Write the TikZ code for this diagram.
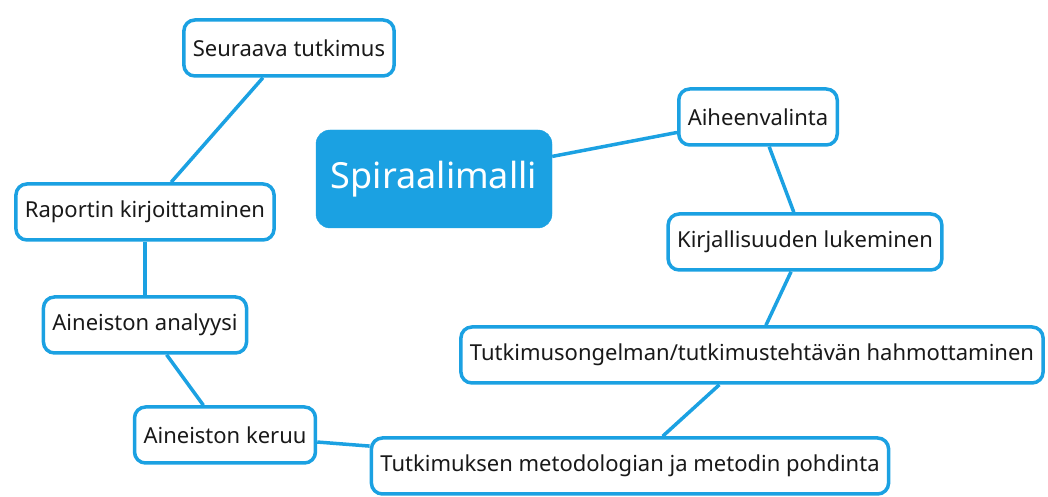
\documentclass[tikz,border=0pt]{standalone}
\usepackage{fontspec}
\setmainfont{Noto Sans}
\definecolor{mapblue}{HTML}{1BA1E2}

\begin{document}
\begin{tikzpicture}[x=1pt,y=1pt,font=\fontsize{22}{26}\selectfont,
    topic/.style={draw=mapblue,line width=3.5pt,rounded corners=11pt,fill=white,
      minimum height=56pt,inner xsep=9pt,text=black!90},
    hub/.style={draw=mapblue,fill=mapblue,rounded corners=14pt,minimum width=236pt,
      minimum height=98pt,text=white,font=\fontsize{36}{42}\selectfont},
    link/.style={mapblue,line width=3.5pt}]
        \useasboundingbox (0,0) rectangle (1048,497);
        \node[hub] (spiral) at (434,318) {Spiraalimalli};
        \node[topic] (aihe) at (758,380) {Aiheenvalinta};
        \node[topic] (kirj) at (805,255) {Kirjallisuuden lukeminen};
        \node[topic] (ongelma) at (752,142) {Tutkimusongelman/tutkimustehtävän hahmottaminen};
        \node[topic] (metodi) at (630,31) {Tutkimuksen metodologian ja metodin pohdinta};
        \node[topic] (keruu) at (225,62) {Aineiston keruu};
        \node[topic] (analyysi) at (145,172) {Aineiston analyysi};
        \node[topic] (raportti) at (145,285) {Raportin kirjoittaminen};
        \node[topic] (seuraava) at (289,449) {Seuraava tutkimus};
        \foreach \a/\b in {spiral/aihe,aihe/kirj,kirj/ongelma,ongelma/metodi,metodi/keruu,keruu/analyysi,analyysi/raportti,raportti/seuraava} {
          \draw[link] (\a) -- (\b);
        }
      \end{tikzpicture}
\end{document}
